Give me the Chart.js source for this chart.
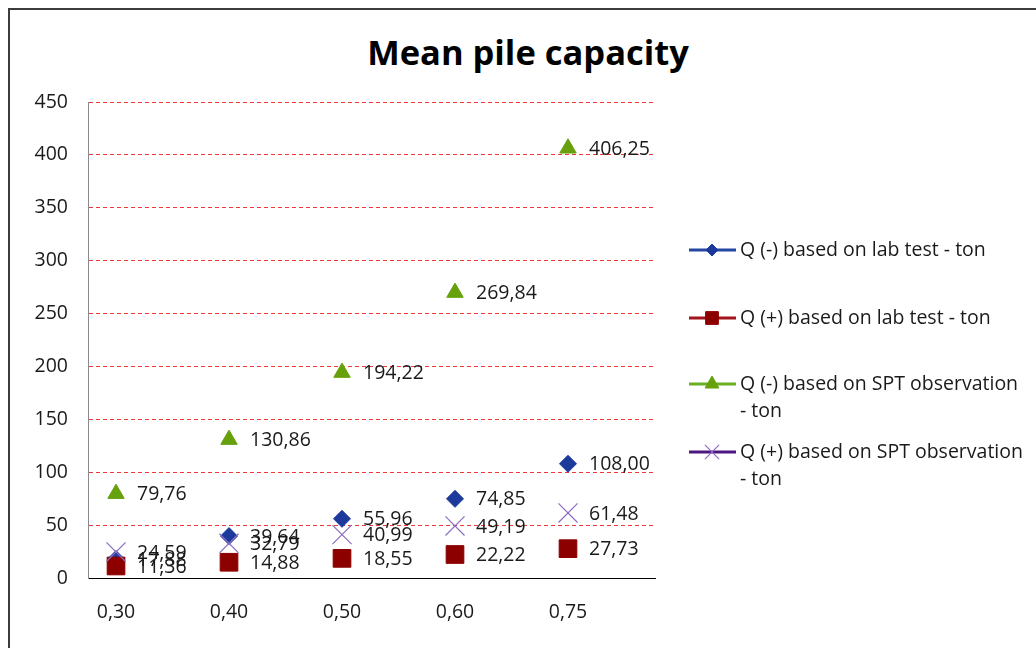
<!DOCTYPE html>
<html>
<head>
<meta charset="utf-8">
<title>Mean pile capacity</title>
<script src="https://cdn.jsdelivr.net/npm/chart.js@4.4.1/dist/chart.umd.min.js"></script>
<style>
  body { margin: 0; background: #fff; }
  #wrap { position: relative; width: 1036px; height: 648px; overflow: hidden; }
  #frame {
    position: absolute; left: 8px; top: 8px; width: 1100px; height: 700px;
    border: 2px solid #3c3c3c; box-sizing: border-box;
  }
  #title {
    position: absolute; left: 0; width: 1056px; top: 28px; text-align: center;
    font: bold 34.5px "Open Sans", "Noto Sans", sans-serif; color: #000;
  }
  canvas { position: absolute; left: 0; top: 0; }
</style>
</head>
<body>
<div id="wrap">
  <div id="frame"></div>
  <div id="title">Mean pile capacity</div>
  <canvas id="myChart" width="1036" height="648"></canvas>
</div>
<script>
// chart values
const categories = ['0,30', '0,40', '0,50', '0,60', '0,75']
const qMinusLab = [17.88, 39.64, 55.96, 74.85, 108.0]
const qPlusLab = [11.36, 14.88, 18.55, 22.22, 27.73]
const qMinusSpt = [79.76, 130.86, 194.22, 269.84, 406.25]
const qPlusSpt = [24.59, 32.79, 40.99, 49.19, 61.48]
const yTicks = [0, 50, 100, 150, 200, 250, 300, 350, 400, 450]

const legendLines = [
  ['Q (-) based on lab test - ton'],
  ['Q (+) based on lab test - ton'],
  ['Q (-) based on SPT observation', '- ton'],
  ['Q (+) based on SPT observation', '- ton'],
]

const FONT = '"Open Sans", "Noto Sans", sans-serif'

// the categories sit unevenly in the plot (more room on the right), so the
// x axis is linear over the category index
const toPoints = (values) => values.map((v, i) => ({ x: i, y: v }))

// writes each value next to its marker, with a decimal comma
const valueLabels = {
  id: 'valueLabels',
  afterDatasetsDraw(chart) {
    const ctx = chart.ctx
    ctx.save()
    ctx.font = `19.5px ${FONT}`
    ctx.fillStyle = '#1a1a1a'
    ctx.textBaseline = 'middle'
    chart.data.datasets.forEach((ds, i) => {
      chart.getDatasetMeta(i).data.forEach((pt, j) => {
        ctx.fillText(ds.data[j].y.toFixed(2).replace('.', ','), pt.x + 21, pt.y + 1)
      })
    })
    ctx.restore()
  },
}

// legend on the right, with wrapped labels like the original
const sideLegend = {
  id: 'sideLegend',
  afterDraw(chart) {
    const ctx = chart.ctx
    const rows = [250, 318, 384, 452]
    ctx.save()
    chart.data.datasets.forEach((ds, i) => {
      const y = rows[i]
      ctx.strokeStyle = ds.legendLine
      ctx.lineWidth = 3
      ctx.beginPath()
      ctx.moveTo(689, y)
      ctx.lineTo(736, y)
      ctx.stroke()
      ctx.fillStyle = ds.backgroundColor
      ctx.strokeStyle = ds.borderColor
      ctx.lineWidth = ds.pointBorderWidth || 1
      Chart.helpers.drawPoint(ctx, {
        pointStyle: ds.pointStyle,
        radius: ds.legendRadius,
        borderWidth: ds.pointBorderWidth || 1,
      }, 712, y)
      ctx.font = `19.5px ${FONT}`
      ctx.fillStyle = '#1a1a1a'
      ctx.textBaseline = 'middle'
      legendLines[i].forEach((line, k) => {
        ctx.fillText(line, 740, y + k * 27)
      })
    })
    ctx.restore()
  },
}

const ctx = document.getElementById('myChart')

new Chart(ctx, {
  type: 'line',
  data: {
    datasets: [
      {
        label: legendLines[0].join(' '),
        data: toPoints(qMinusLab),
        order: 4,
        showLine: false,
        pointStyle: 'rectRot',
        pointRadius: 8.5,
        legendRadius: 6,
        backgroundColor: '#1c3a9c',
        borderColor: '#1c3a9c',
        legendLine: '#2447a3',
      },
      {
        label: legendLines[1].join(' '),
        data: toPoints(qPlusLab),
        order: 3,
        showLine: false,
        pointStyle: 'rect',
        pointRadius: 12.5,
        legendRadius: 9,
        backgroundColor: '#8c0000',
        borderColor: '#8c0000',
        legendLine: '#a3141c',
      },
      {
        label: legendLines[2].join(' '),
        data: toPoints(qMinusSpt),
        order: 2,
        showLine: false,
        pointStyle: 'triangle',
        pointRadius: 9.5,
        legendRadius: 8,
        backgroundColor: '#66a10c',
        borderColor: '#66a10c',
        legendLine: '#6aae24',
      },
      {
        label: legendLines[3].join(' '),
        data: toPoints(qPlusSpt),
        order: 1,
        showLine: false,
        pointStyle: 'crossRot',
        pointRadius: 13.5,
        legendRadius: 10,
        pointBorderWidth: 1.2,
        backgroundColor: '#8c6cc0',
        borderColor: '#8c6cc0',
        legendLine: '#4d1680',
      },
    ],
  },
  options: {
    responsive: false,
    animation: false,
    layout: { padding: { left: 0, right: 381, top: 102, bottom: 0 } },
    plugins: {
      legend: { display: false },
      title: { display: false },
      tooltip: { enabled: false },
    },
    scales: {
      x: {
        type: 'linear',
        min: -0.248,
        max: 4.77,
        afterBuildTicks(scale) { scale.ticks = categories.map((c, i) => ({ value: i })) },
        grid: { display: false, drawTicks: false },
        border: { color: '#000', width: 1 },
        ticks: {
          color: '#1a1a1a',
          font: { family: FONT, size: 19.5 },
          padding: 23,
          callback: (v) => categories[v],
        },
        afterFit(scale) { scale.height = 70 },
      },
      y: {
        min: 0,
        max: 450,
        afterBuildTicks(scale) { scale.ticks = yTicks.map((v) => ({ value: v })) },
        grid: {
          drawTicks: false,
          color: (c) => (c.tick && c.tick.value === 0 ? 'rgba(0,0,0,0)' : '#f03a3a'),
          lineWidth: 1,
        },
        border: { color: '#8a8a8a', width: 1, dash: [4, 3] },
        ticks: { color: '#1a1a1a', font: { family: FONT, size: 19.5 }, padding: 20 },
        afterFit(scale) { scale.width = 88 },
      },
    },
  },
  plugins: [valueLabels, sideLegend],
})
</script>
</body>
</html>
